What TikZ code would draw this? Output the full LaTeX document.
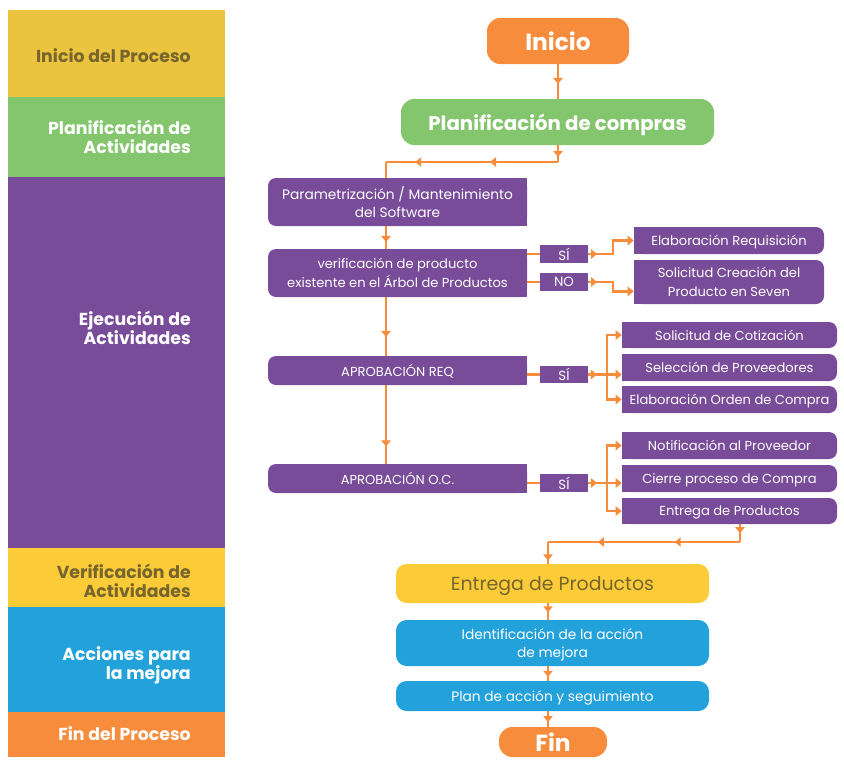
\documentclass[tikz,border=0pt]{standalone}
\usepackage{fontspec}
\setmainfont{Poppins}
\usetikzlibrary{arrows.meta,decorations.markings,backgrounds}

\definecolor{ocre}{HTML}{EAC43E}
\definecolor{verde}{HTML}{83C66D}
\definecolor{morado}{HTML}{794C9A}
\definecolor{amarillo}{HTML}{FBCC38}
\definecolor{azul}{HTML}{22A1DB}
\definecolor{naranja}{HTML}{F68C3C}
\definecolor{oliva}{HTML}{76652D}

\tikzset{
  tam/.style 2 args={minimum width=#1*0.75pt, minimum height=#2*0.75pt},
  rotulo/.style={anchor=east, align=right, inner sep=0pt,
    font=\bfseries\fontsize{13}{14.3}\selectfont},
  grande/.style={fill=#1, rounded corners=10pt, inner sep=0pt, text=white,
    text depth=0pt, font=\bfseries\fontsize{17.5}{20}\selectfont},
  caja/.style={fill=morado, rounded corners=6pt, inner sep=0pt, text=white,
    text depth=0pt, align=center, font=\fontsize{9.8}{14}\selectfont},
  cajaabajo/.style={fill=#1, rounded corners=8pt, inner sep=0pt, text=white,
    text depth=0pt, align=center, font=\fontsize{10.3}{13.5}\selectfont},
  etiq/.style={fill=morado, inner sep=0pt, text=white, font=\fontsize{10}{11}\selectfont},
  linea/.style={draw=naranja, line width=2pt},
  flecha/.style={linea, -{Triangle[width=7pt,length=4.5pt]}},
  medio/.style={postaction={decorate, decoration={markings,
    mark=at position #1 with {\arrow[color=naranja]{Triangle[width=7pt,length=4.5pt]}}}}},
}

\begin{document}
\begin{tikzpicture}[x=0.75pt,y=-0.75pt]
  \useasboundingbox (0,0) rectangle (844,761);

  % franjas de etapas
  \fill[ocre] (8,10) rectangle (225,97);
  \fill[verde] (8,97) rectangle (225,177);
  \fill[morado] (8,177) rectangle (225,548);
  \fill[amarillo] (8,548) rectangle (225,607);
  \fill[azul] (8,607) rectangle (225,712);
  \fill[naranja] (8,712) rectangle (225,757);

  \node[rotulo, text=oliva] (etapa1) at (191,56) {Inicio del Proceso};
  \node[rotulo, text=white] (etapa2) at (191,137) {Planificación de\\Actividades};
  \node[rotulo, text=white] (etapa3) at (191,328) {Ejecución de\\Actividades};
  \node[rotulo, text=oliva] (etapa4) at (191,581) {Verificación de\\Actividades};
  \node[rotulo, text=white] (etapa5) at (191,665) {Acciones para\\la mejora};
  \node[rotulo, text=white] (etapa6) at (191,734) {Fin del Proceso};

  % cajas principales
  \node[grande=naranja, tam={142}{46}] (inicio) at (558,41) {Inicio};
  \node[grande=verde, tam={313}{46}, font=\bfseries\fontsize{14.8}{18}\selectfont]
    (plan) at (557.5,122) {Planificación de compras};

  \node[caja, tam={259}{48}, font=\fontsize{10.3}{14}\selectfont]
    (param) at (397.5,202) {Parametrización / Mantenimiento\\del Software};
  \node[caja, tam={259}{48}] (verif) at (397.5,273) {verificación de producto\\existente en el Árbol de Productos};
  \node[caja, tam={259}{29}] (req) at (397.5,370.5) {APROBACIÓN REQ};
  \node[caja, tam={259}{29}] (oc) at (397.5,478.5) {APROBACIÓN O.C.};

  \node[etiq, tam={48}{18}] (si1) at (564,254) {SÍ};
  \node[etiq, tam={48}{18}] (no1) at (564,282) {NO};
  \node[etiq, tam={48}{17}] (si2) at (564,374.5) {SÍ};
  \node[etiq, tam={48}{18}] (si3) at (564,483) {SÍ};

  \node[caja, tam={190}{27}] (elab) at (729,240.5) {Elaboración Requisición};
  \node[caja, tam={190}{44}] (solcrea) at (729,282) {Solicitud Creación del\\Producto en Seven};
  \node[caja, tam={215}{26}] (cotiz) at (729.5,335) {Solicitud de Cotización};
  \node[caja, tam={215}{27}] (selec) at (729.5,367.5) {Selección de Proveedores};
  \node[caja, tam={215}{27}] (orden) at (729.5,399.5) {Elaboración Orden de Compra};
  \node[caja, tam={215}{27}] (notif) at (729.5,445.5) {Notificación al Proveedor};
  \node[caja, tam={215}{27}] (cierre) at (729.5,478.5) {Cierre proceso de Compra};
  \node[caja, tam={215}{26}] (entrega) at (729.5,511) {Entrega de Productos};

  \node[cajaabajo=amarillo, tam={313}{39}, text=oliva, font=\fontsize{14.2}{16}\selectfont]
    (entprod) at (552.5,583.5) {Entrega de Productos};
  \node[cajaabajo=azul, tam={313}{46}] (ident) at (552.5,643) {Identificación de la acción\\de mejora};
  \node[cajaabajo=azul, tam={313}{30}] (planacc) at (552.5,696) {Plan de acción y seguimiento};
  \node[grande=naranja, tam={108}{30}] (fin) at (553,742) {Fin};

  % esquinas rectas
  \begin{pgfonlayer}{background}
    \foreach \n in {param,verif,req,oc}
      \fill[morado] (\n.north) rectangle (\n.south east);
    \foreach \n in {elab,solcrea,cotiz,selec,orden,notif,cierre,entrega}
      \fill[morado] (\n.north west) rectangle (\n.south);
  \end{pgfonlayer}

  % ejes de las lineas
  \coordinate (eje) at (386,0);
  \coordinate (eje2) at (548,0);
  \coordinate (r1) at (613,0);
  \coordinate (r2) at (607,0);
  \coordinate (codo1) at (558,162);
  \coordinate (codo2) at (386,162);
  \coordinate (codo3) at (740,542);

  % conectores
  \draw[linea, medio=0.57] (inicio.south) -- (inicio.south |- plan.north);
  \draw[linea, medio=0.7] (plan.south -| codo1) -- (codo1);
  \draw[linea, medio=0.395, medio=0.83] (codo1) -- (codo2);
  \draw[linea] (codo2) -- (param.north -| eje);
  \draw[linea, medio=0.7] (param.south -| eje) -- (verif.north -| eje);
  \draw[linea, medio=0.68] (verif.south -| eje) -- (req.north -| eje);
  \draw[linea, medio=0.78] (req.south -| eje) -- (oc.north -| eje);

  \draw[linea] (verif.east |- si1) -- (si1.west);
  \draw[linea] (verif.east |- no1) -- (no1.west);
  \draw[flecha, medio=0.15] (si1.east) -- (si1.east -| r1) |- (elab.west);
  \draw[flecha, medio=0.16] (no1.east) -- (no1.east -| r1) |- ([yshift=-7pt]solcrea.west);

  \draw[linea] (req.east |- si2) -- (si2.west);
  \draw[flecha, medio=0.26] (si2.east) -- (selec.west |- si2);
  \draw[flecha] (si2.east -| r2) |- (cotiz.west);
  \draw[flecha] (si2.east -| r2) |- (orden.west);

  \draw[linea] (oc.east |- si3) -- (si3.west);
  \draw[flecha, medio=0.26] (si3.east) -- (cierre.west |- si3);
  \draw[flecha] (si3.east -| r2) |- (notif.west);
  \draw[flecha] (si3.east -| r2) |- (entrega.west);

  \draw[linea, medio=0.5] (entrega.south -| codo3) -- (codo3);
  \draw[linea, medio=0.34, medio=0.74] (codo3) -- (codo3 -| eje2);
  \draw[linea, medio=0.85] (codo3 -| eje2) -- (entprod.north -| eje2);
  \draw[linea, medio=0.55] (entprod.south -| eje2) -- (ident.north -| eje2);
  \draw[linea, medio=0.73] (ident.south -| eje2) -- (planacc.north -| eje2);
  \draw[linea, medio=0.7] (planacc.south -| eje2) -- (fin.north -| eje2);
\end{tikzpicture}
\end{document}
